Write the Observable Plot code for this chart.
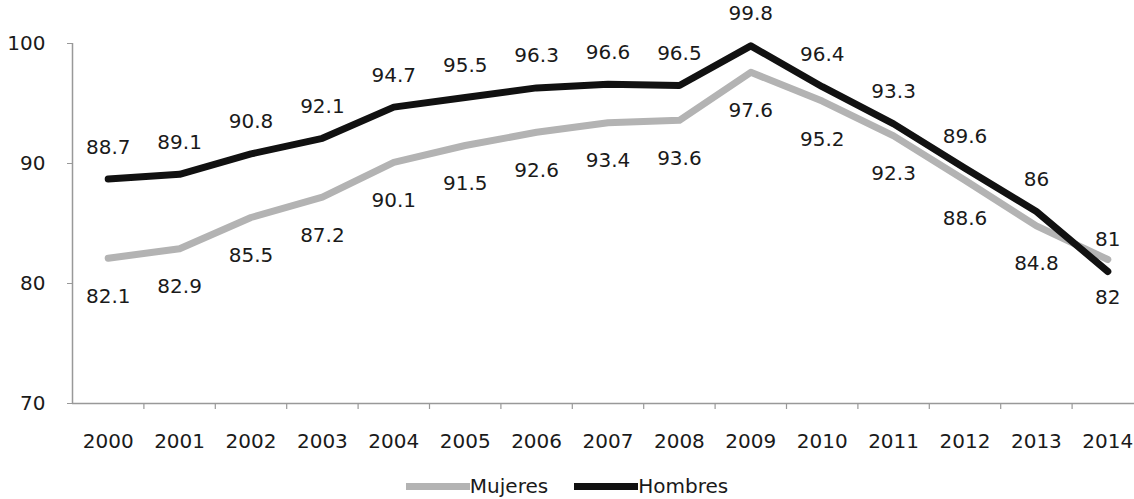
<!DOCTYPE html>
<html>
<head>
<meta charset="utf-8">
<script src="https://cdn.jsdelivr.net/npm/d3@7"></script>
<script src="https://cdn.jsdelivr.net/npm/@observablehq/plot@0.6"></script>
<style>
  body { margin: 0; background: #fff; font-family: "DejaVu Sans", sans-serif; }
  #legend { display: flex; justify-content: center; align-items: center; height: 34px; font-size: 20px; color: #1a1a1a; padding-top: 4px; }
  .sw { display: inline-block; width: 64px; height: 7px; vertical-align: middle; }
  .item { display: flex; align-items: center; margin: 0 13px; }
</style>
</head>
<body>
<div id="chart"></div>
<div id="legend"></div>
<script>
const years = [2000, 2001, 2002, 2003, 2004, 2005, 2006, 2007, 2008, 2009, 2010, 2011, 2012, 2013, 2014];
const mujeres = [82.1, 82.9, 85.5, 87.2, 90.1, 91.5, 92.6, 93.4, 93.6, 97.6, 95.2, 92.3, 88.6, 84.8, 82];
const hombres = [88.7, 89.1, 90.8, 92.1, 94.7, 95.5, 96.3, 96.6, 96.5, 99.8, 96.4, 93.3, 89.6, 86, 81];
const yTicks = [70, 80, 90, 100];
const seriesNames = ["Mujeres", "Hombres"];
const seriesColors = ["#b3b3b3", "#111111"];

const data = [];
years.forEach((y, i) => {
  data.push({year: y, value: mujeres[i], serie: seriesNames[0]});
  data.push({year: y, value: hombres[i], serie: seriesNames[1]});
});
const muj = data.filter(d => d.serie === "Mujeres");
const hom = data.filter(d => d.serie === "Hombres");
const between = years.slice(0, -1).map(y => y + 0.5);

const chart = Plot.plot({
  width: 1134,
  height: 465,
  marginLeft: 72,
  marginRight: -9,
  marginTop: 43,
  marginBottom: 62,
  style: {fontFamily: "DejaVu Sans, sans-serif", fontSize: "20px", color: "#1a1a1a", background: "#fff"},
  x: {domain: [years[0] - 0.5, years[years.length - 1] + 0.5]},
  y: {domain: [70, 100]},
  marks: [
    Plot.axisY({ticks: yTicks, tickSize: 5, tickPadding: 22, label: null, stroke: "#999", fill: "#1a1a1a"}),
    Plot.ruleX([years[0] - 0.5], {y1: 70, y2: 100, stroke: "#999", strokeWidth: 1.5}),
    Plot.ruleY([70], {stroke: "#999", strokeWidth: 1.5}),
    Plot.axisX({ticks: years, tickFormat: d => String(d), tickSize: 0, tickPadding: 30, label: null, fill: "#1a1a1a"}),
    Plot.axisX({ticks: between, tickSize: 6, text: null, label: null, stroke: "#999", strokeWidth: 1.2}),
    Plot.line(muj, {x: "year", y: "value", stroke: seriesColors[0], strokeWidth: 7}),
    Plot.line(hom, {x: "year", y: "value", stroke: seriesColors[1], strokeWidth: 7}),
    Plot.text(hom, {x: "year", y: "value", text: d => String(d.value), dy: -32, fill: "#1a1a1a", fontSize: 20}),
    Plot.text(muj, {x: "year", y: "value", text: d => String(d.value), dy: 38, fill: "#1a1a1a", fontSize: 20})
  ]
});
document.getElementById("chart").appendChild(chart);

const leg = document.getElementById("legend");
seriesNames.forEach((n, i) => {
  const it = document.createElement("div");
  it.className = "item";
  it.innerHTML = `<span class="sw" style="background:${seriesColors[i]}"></span><span>${n}</span>`;
  leg.appendChild(it);
});
</script>
</body>
</html>
